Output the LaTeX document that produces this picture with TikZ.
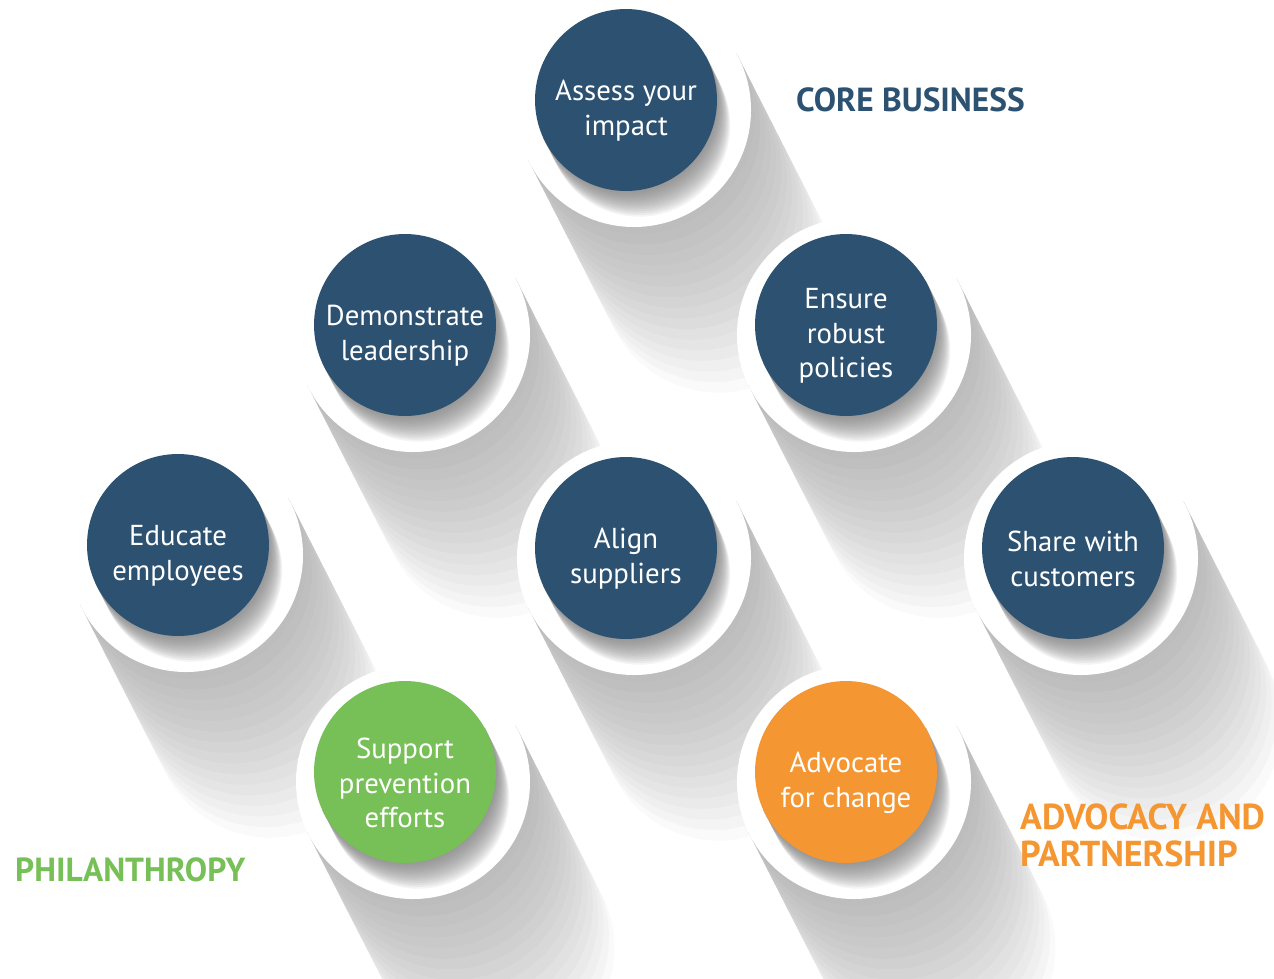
\documentclass[tikz,border=0pt]{standalone}
\usepackage{fontspec}
\setmainfont{PT Sans}
\usepackage{tikz}
\definecolor{coreblue}{HTML}{2D5271}
\definecolor{philgreen}{HTML}{77BF57}
\definecolor{advorange}{HTML}{F49733}
\tikzset{x=0.02cm, y=0.02cm,
  bubble/.style={circle, minimum size=3.64cm, inner sep=0pt},
  bubtext/.style={align=center, text=white, font=\fontsize{16.4}{19.8}\selectfont},
  heading/.style={anchor=west, align=left, font=\bfseries\fontsize{19}{21}\selectfont}}

% soft shadow: stacked capsules from centre #1, radius #2, length #3, opacity #4
\newcommand{\dropshadow}[4]{%
  \foreach \k in {1,...,16}{
    \fill[black!55, opacity=#4] (#1) ++(-155:#2) -- ++(-63:{#3*\k/16})
      arc[start angle=-153, end angle=27, radius=#2] -- ++(117:{#3*\k/16}) -- cycle;
  }}
% name, centre, fill, text
\newcommand{\bubble}[4]{%
  \path (#2) ++(8,-10) coordinate (#1-disc);
  \dropshadow{#1-disc}{117}{190}{.04}
  \fill[white] (#1-disc) circle[radius=117];
  \begin{scope}
    \clip (#1-disc) circle[radius=117];
    \dropshadow{#2}{91}{32}{.08}
  \end{scope}
  \node[bubble, fill=#3] (#1) at (#2) {};
  \node[bubtext] (#1-text) at ([yshift=-0.22cm]#1.center) {#4};
}

\begin{document}
\begin{tikzpicture}
\useasboundingbox (0,0) rectangle (1274,-978);

\bubble{assess}{626,-100}{coreblue}{Assess your\\impact}
\bubble{leader}{405,-325}{coreblue}{Demonstrate\\leadership}
\bubble{policies}{846,-325}{coreblue}{Ensure\\robust\\policies}
\bubble{educate}{178,-545}{coreblue}{Educate\\employees}
\bubble{suppliers}{626,-548}{coreblue}{Align\\suppliers}
\bubble{customers}{1073,-548}{coreblue}{Share with\\customers}
\bubble{support}{405,-772}{philgreen}{Support\\prevention\\efforts}
\bubble{advocate}{846,-772}{advorange}{Advocate\\for change}

\node[heading, text=coreblue] (core) at (790,-100) {CORE BUSINESS};
\node[heading, text=philgreen] (phil) at (9,-870) {PHILANTHROPY};
\node[heading, text=advorange, font=\bfseries\fontsize{20.5}{21}\selectfont] (advo) at (1014,-835) {ADVOCACY AND\\PARTNERSHIP};
\end{tikzpicture}
\end{document}
